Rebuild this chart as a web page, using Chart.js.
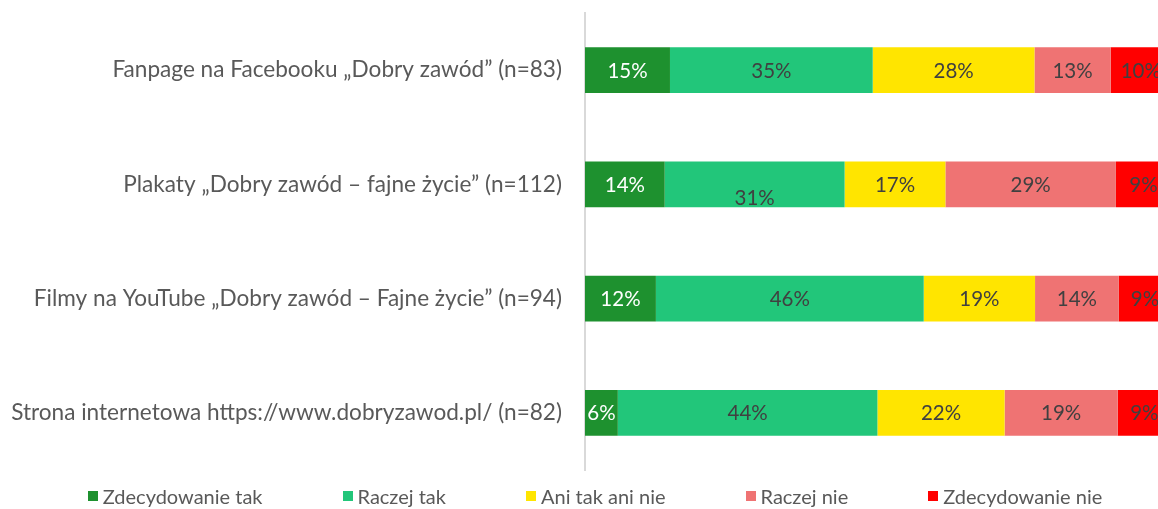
<!DOCTYPE html>
<html>
<head>
<meta charset="utf-8">
<script src="https://cdn.jsdelivr.net/npm/chart.js@4.4.1/dist/chart.umd.min.js"></script>
<style>
html, body { margin: 0; padding: 0; background: #fff; overflow: hidden; width: 1158px; height: 509px; }
#wrap { position: relative; width: 1190px; height: 509px; }
#legend { position: absolute; left: 0; top: 484px; width: 1190px; display: flex; justify-content: center; gap: 80px; font: 20px Lato, sans-serif; color: #595959; }
.item { display: flex; align-items: center; white-space: nowrap; }
.box { width: 10px; height: 10px; margin-right: 5px; }
</style>
</head>
<body>
<div id="wrap">
  <canvas id="chart" width="1190" height="509"></canvas>
  <div id="legend"></div>
</div>
<script>
// ===== DANE =====
const categories = [
    "Fanpage na Facebooku „Dobry zawód” (n=83)",
    "Plakaty „Dobry zawód – fajne życie” (n=112)",
    "Filmy na YouTube „Dobry zawód – Fajne życie” (n=94)",
    "Strona internetowa https://www.dobryzawod.pl/ (n=82)"
];
const seriesNames = ["Zdecydowanie tak", "Raczej tak", "Ani tak ani nie", "Raczej nie", "Zdecydowanie nie"];
const zdecydowanieTak = [14.5, 13.6, 12.1, 5.6];
const raczejTak       = [34.6, 30.7, 45.7, 44.3];
const aniTakAniNie    = [27.6, 17.2, 19.0, 21.7];
const raczejNie       = [13.0, 29.1, 14.3, 19.3];
const zdecydowanieNie = [10.3, 9.4, 8.9, 9.1];
const colors = ['#1e912f', '#22c67a', '#ffe500', '#ef7373', '#ff0000'];

const values = [zdecydowanieTak, raczejTak, aniTakAniNie, raczejNie, zdecydowanieNie];

// ===== LEGENDA (HTML) =====
const legend = document.getElementById("legend");
seriesNames.forEach((name, i) => {
    legend.innerHTML += `<div class="item"><span class="box" style="background:${colors[i]}"></span>${name}</div>`;
});

// ===== ETYKIETY NA SŁUPKACH =====
const barLabels = {
    id: 'barLabels',
    afterDatasetsDraw(chart) {
        const ctx = chart.ctx;
        ctx.save();
        ctx.font = '20.5px Lato, sans-serif';
        ctx.textAlign = 'center';
        ctx.textBaseline = 'middle';
        chart.data.datasets.forEach((ds, i) => {
            chart.getDatasetMeta(i).data.forEach((bar, j) => {
                const x = (bar.x + bar.base) / 2;
                let y = bar.y + 1;
                if (i === 1 && j === 1) y += 13; // w oryginale ta etykieta jest niżej
                ctx.fillStyle = i === 0 ? '#ffffff' : '#404040';
                ctx.fillText(Math.round(ds.data[j]) + '%', x, y);
            });
        });
        ctx.restore();
    }
};

new Chart(document.getElementById("chart"), {
    type: 'bar',
    data: {
        labels: categories,
        datasets: seriesNames.map((name, i) => ({
            label: name,
            data: values[i],
            backgroundColor: colors[i],
            borderWidth: 0,
            categoryPercentage: 0.4,
            barPercentage: 1
        }))
    },
    options: {
        indexAxis: 'y',
        responsive: false,
        animation: false,
        layout: { padding: { top: 13, bottom: 39, right: 19, left: 0 } },
        plugins: {
            legend: { display: false },
            tooltip: { enabled: false }
        },
        scales: {
            x: { stacked: true, min: 0, max: 100, display: false },
            y: {
                stacked: true,
                grid: { display: false, drawTicks: false },
                border: { color: '#d9d9d9', width: 2 },
                ticks: { padding: 23, color: '#595959', font: { family: 'Lato', size: 22.6 } },
                afterFit: (scale) => {
                    scale.width = 585;
                    scale.paddingTop = 0;
                    scale.paddingBottom = 0;
                }
            }
        }
    },
    plugins: [barLabels]
});
</script>
</body>
</html>
